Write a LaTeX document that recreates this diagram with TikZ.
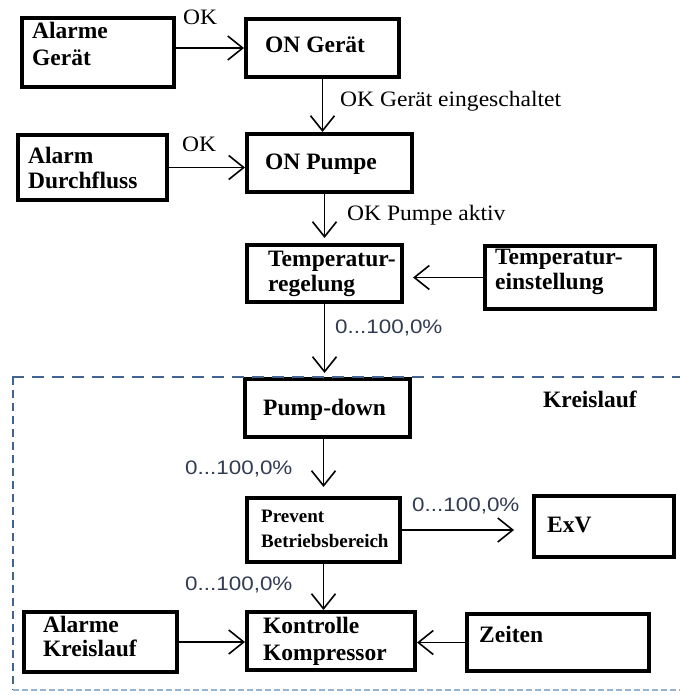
\documentclass[tikz,border=0pt]{standalone}
\usepackage{fontspec}
\setmainfont{Liberation Serif}
\newfontfamily\lblserif[FakeStretch=1.07]{Liberation Serif}
\newfontfamily\lblsans[FakeStretch=1.15]{Liberation Sans}
\usetikzlibrary{arrows.meta}

\definecolor{frameblue}{RGB}{65,100,145}
\definecolor{framelight}{RGB}{150,180,212}
\definecolor{pcttext}{RGB}{50,60,82}

\tikzset{
  blk/.style={draw=black, line width=4pt, rectangle, inner sep=0pt, anchor=north west},
  blktext/.style={anchor=north west, inner sep=0pt, align=left,
    font=\bfseries\fontsize{23.5}{26.5}\selectfont},
  blksmall/.style={anchor=north west, inner sep=0pt, align=left,
    font=\bfseries\fontsize{19}{25}\selectfont},
  arr/.style={line width=1.5pt, -{Straight Barb[length=15pt,width=24pt,line width=1.6pt]}},
  oklbl/.style={anchor=base west, inner sep=0pt, font=\lblserif\fontsize{22}{26}\selectfont},
  pctlbl/.style={anchor=base west, inner sep=0pt, text=pcttext, font=\lblsans\fontsize{19.5}{23}\selectfont},
}

\begin{document}
\begin{tikzpicture}[x=1pt,y=-1pt]
\useasboundingbox (0,0) rectangle (680,695);

% blocks
\node[blk, minimum width=152, minimum height=69] (ag)  at (20,16)  {};
\node[blk, minimum width=153, minimum height=58] (og)  at (244,17) {};
\node[blk, minimum width=149, minimum height=65] (adf) at (16,133) {};
\node[blk, minimum width=165, minimum height=58] (op)  at (245,132) {};
\node[blk, minimum width=155, minimum height=57] (tr)  at (245,243) {};
\node[blk, minimum width=170, minimum height=63] (te)  at (483,244) {};
\node[blk, minimum width=165, minimum height=58] (pd)  at (243,377) {};
\node[blk, minimum width=153, minimum height=64] (pb)  at (245,496) {};
\node[blk, minimum width=140, minimum height=61] (exv) at (532,494) {};
\node[blk, minimum width=153, minimum height=60] (ak)  at (22,610) {};
\node[blk, minimum width=168, minimum height=58] (kk)  at (245,610) {};
\node[blk, minimum width=182, minimum height=57] (ze)  at (465,612) {};

% block captions
\node[blktext] (agt)  at (32,22)  {Alarme\\Gerät};
\node[blktext] (ogt)  at (265,37) {ON Gerät};
\node[blktext, font=\bfseries\fontsize{23.5}{25}\selectfont] (adft) at (28,147) {Alarm\\Durchfluss};
\node[blktext] (opt)  at (265,154) {ON Pumpe};
\node[blktext, font=\bfseries\fontsize{23.5}{25}\selectfont] (trt)  at (268,251) {Temperatur-\\regelung};
\node[blktext, font=\bfseries\fontsize{23.5}{25}\selectfont] (tet)  at (495,249) {Temperatur-\\einstellung};
\node[blktext] (pdt)  at (263,399) {Pump-down};
\node[blktext] (kl)   at (543,391) {Kreislauf};
\node[blksmall] (pbt) at (261,510) {Prevent\\Betriebsbereich};
\node[blktext] (exvt) at (547,517) {ExV};
\node[blktext, font=\bfseries\fontsize{23.5}{23.5}\selectfont] (akt) at (43,616) {Alarme\\Kreislauf};
\node[blktext, font=\bfseries\fontsize{23.5}{27}\selectfont] (kkt) at (263,617) {Kontrolle\\Kompressor};
\node[blktext] (zet)  at (479,626) {Zeiten};

% circuit frame
\draw[frameblue, line width=2.5pt, dash pattern=on 12pt off 8pt] (12,377) -- (680,377);
\draw[frameblue, line width=1.8pt, dash pattern=on 8pt off 5pt] (13,377) -- (13,690);
\draw[framelight, line width=2pt, dash pattern=on 6pt off 3pt] (13,690) -- (680,690);

% connectors
\draw[arr] (ag.east |- og.west) -- (og.west);
\draw[arr] (og.south) -- (og.south |- op.north);
\draw[arr] (adf.east) -- (adf.east -| op.west);
\draw[arr, shorten >=5pt] (op.south -| tr.north) -- (tr.north);
\draw[arr, shorten >=9pt] (te.west) -- (te.west -| tr.east);
\draw[arr, shorten >=4pt] (tr.south) -- (tr.south |- pd.north);
\draw[arr, shorten >=9pt] (pd.south -| pb.north) -- (pb.north);
\draw[arr, shorten >=18pt] (pb.east) -- (pb.east -| exv.west);
\draw[arr] (pb.south) -- (pb.south |- kk.north);
\draw[arr] (ak.east) -- (ak.east -| kk.west);
\draw[arr] (ze.west) -- (ze.west -| kk.east);

% connector labels
\node[oklbl] (okA) at (183,25)  {OK};
\node[oklbl] (okB) at (182,152) {OK};
\node[oklbl] (okC) at (340,107) {OK Gerät eingeschaltet};
\node[oklbl] (okD) at (347,220) {OK Pumpe aktiv};
\node[pctlbl] (pA) at (335,333) {0...100,0\%};
\node[pctlbl] (pB) at (185,474) {0...100,0\%};
\node[pctlbl] (pC) at (412,511) {0...100,0\%};
\node[pctlbl] (pD) at (185,590) {0...100,0\%};
\end{tikzpicture}
\end{document}
